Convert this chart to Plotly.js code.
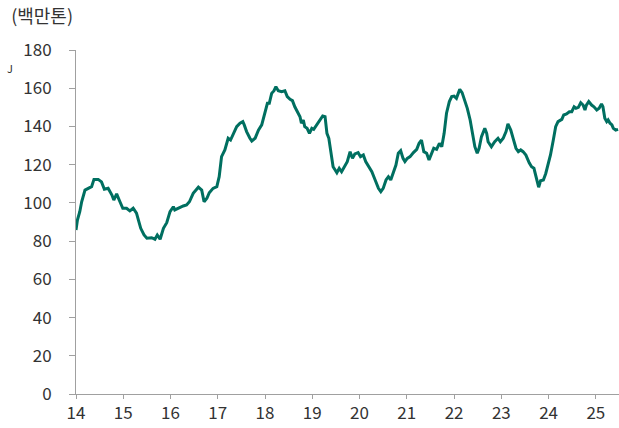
<!DOCTYPE html>
<html>
<head>
<meta charset="utf-8">
<script src="https://cdn.plot.ly/plotly-3.0.1.min.js"></script>
<style>
  html, body { margin: 0; padding: 0; background: #fff; }
  #chart { width: 619px; height: 428px; }
</style>
</head>
<body>
<div id="chart"></div>
<script>
// Decimal year (e.g. 14.5 = mid-2014)
const years = [
  14.00,14.03,14.08,14.12,14.19,14.26,14.33,14.38,14.47,14.54,14.60,14.68,14.76,14.80,14.86,14.93,14.99,
  15.07,15.14,15.21,15.28,15.33,15.37,15.44,15.50,15.60,15.67,15.72,15.78,15.85,15.92,15.99,
  16.06,16.09,16.16,16.27,16.34,16.40,16.48,16.59,16.66,16.71,16.77,16.82,16.90,16.98,
  17.03,17.08,17.15,17.22,17.27,17.33,17.40,17.47,17.53,17.56,17.61,17.68,17.72,17.79,17.86,17.93,
  18.00,18.05,18.09,18.14,18.19,18.23,18.28,18.35,18.42,18.47,18.53,18.58,18.63,18.68,18.74,18.77,18.81,18.84,18.89,18.94,18.99,
  19.03,19.09,19.16,19.22,19.27,19.31,19.35,19.39,19.44,19.52,19.57,19.62,19.69,19.74,19.80,19.85,19.90,19.97,
  20.02,20.08,20.13,20.20,20.26,20.33,20.40,20.45,20.50,20.56,20.61,20.66,20.71,20.77,20.82,20.87,20.92,20.96,
  21.01,21.07,21.14,21.21,21.26,21.31,21.36,21.42,21.47,21.52,21.57,21.63,21.69,21.74,21.79,21.84,21.90,21.95,
  22.00,22.05,22.09,22.12,22.17,22.23,22.28,22.34,22.39,22.44,22.49,22.53,22.58,22.65,22.69,22.72,22.79,22.86,22.93,22.98,
  23.04,23.10,23.14,23.20,23.25,23.31,23.36,23.41,23.46,23.52,23.59,23.64,23.69,23.75,23.79,23.83,23.89,23.94,23.99,
  24.04,24.10,24.15,24.20,24.28,24.32,24.38,24.44,24.49,24.54,24.58,24.63,24.68,24.73,24.77,24.80,24.85,24.91,24.96,
  25.02,25.07,25.12,25.15,25.19,25.23,25.26,25.30,25.34,25.37,25.42,25.47
];
// Volume, million tonnes
const volume = [
  85.8,91.0,95.4,100.6,106.7,107.6,108.5,112.3,112.3,111.0,107.1,107.6,104.1,101.5,104.7,100.6,97.2,
  97.2,95.8,97.2,94.6,90.2,86.7,83.2,81.5,81.8,81.0,83.2,81.0,86.7,89.6,95.4,
  98.0,96.3,97.2,98.4,98.9,100.6,105.0,108.2,106.7,100.6,102.4,105.3,107.6,108.5,
  113.7,124.2,127.7,133.8,132.9,136.4,139.9,141.7,142.5,140.8,137.3,133.8,132.4,133.8,138.1,140.8,
  146.9,152.1,152.1,157.3,158.7,160.8,158.7,158.2,158.7,155.6,154.2,153.5,150.3,147.7,145.1,141.7,143.4,139.9,139.0,136.4,139.0,
  138.5,140.8,143.7,145.5,145.1,136.4,133.8,126.0,118.9,115.8,118.1,116.3,119.8,121.6,126.8,123.3,125.6,126.3,
  124.2,125.1,121.6,118.9,116.3,112.0,107.6,105.9,107.6,112.0,113.7,112.0,115.4,119.8,126.0,127.3,123.3,121.6,
  123.3,124.2,126.3,128.0,131.2,132.9,126.8,126.0,122.5,126.0,128.6,128.0,131.2,129.4,136.4,146.9,153.0,155.6,
  155.9,154.7,157.3,159.4,157.7,153.0,149.5,143.4,136.4,129.4,126.0,128.6,134.7,139.0,136.4,132.0,129.4,132.0,133.8,132.0,
  133.8,137.3,141.3,138.1,133.8,128.6,126.8,127.7,126.8,125.0,121.0,118.9,118.1,112.0,108.2,111.6,112.0,115.4,119.8,
  125.1,132.9,139.9,142.5,143.7,146.0,146.5,147.7,147.7,150.3,149.5,150.0,152.4,151.2,148.6,151.2,153.0,151.2,150.3,
  148.6,149.5,151.8,150.3,144.3,142.5,143.4,141.7,140.8,139.0,138.1,138.5
];
const xTicks = [14,15,16,17,18,19,20,21,22,23,24,25];
const xTickLabels = ['14','15','16','17','18','19','20','21','22','23','24','25'];
const yTicks = [0,20,40,60,80,100,120,140,160,180];
const unitLabel = '(백만톤)';

const fontFam = '"Noto Sans CJK KR", "Noto Sans", sans-serif';

const trace = {
  x: years,
  y: volume,
  type: 'scatter',
  mode: 'lines',
  line: { color: '#006f60', width: 3, shape: 'linear' },
  hoverinfo: 'skip',
  cliponaxis: false
};

const layout = {
  width: 619,
  height: 428,
  margin: { l: 76, r: 0, t: 50, b: 34, pad: 0 },
  paper_bgcolor: '#ffffff',
  plot_bgcolor: '#ffffff',
  showlegend: false,
  font: { family: fontFam, size: 17, color: '#333333' },
  title: {
    text: unitLabel,
    xref: 'container', yref: 'container',
    x: 0.018, xanchor: 'left',
    y: 0.961, yanchor: 'middle',
    font: { family: fontFam, size: 18, color: '#333333' }
  },
  xaxis: {
    range: [14, 25.49],
    tickmode: 'array',
    tickvals: xTicks,
    ticktext: xTickLabels,
    ticks: 'outside',
    ticklen: 4,
    tickwidth: 1,
    tickcolor: '#a0a0a0',
    showline: true,
    linecolor: '#a0a0a0',
    linewidth: 1,
    showgrid: false,
    zeroline: false,
    tickfont: { family: fontFam, size: 17, color: '#333333' }
  },
  yaxis: {
    range: [0, 180],
    tickmode: 'array',
    tickvals: yTicks,
    ticks: 'outside',
    ticklen: 6,
    tickwidth: 1,
    tickcolor: '#a0a0a0',
    showline: true,
    linecolor: '#a0a0a0',
    linewidth: 1,
    showgrid: false,
    zeroline: false,
    ticklabelstandoff: 14,
    tickfont: { family: fontFam, size: 17, color: '#333333' }
  },
  annotations: [{
    text: 'J',
    xref: 'paper', yref: 'y',
    x: -0.122, y: 170.5,
    xanchor: 'center', yanchor: 'middle',
    showarrow: false,
    font: { family: fontFam, size: 11, color: '#333333' }
  }]
};

Plotly.newPlot('chart', [trace], layout, { staticPlot: true, displayModeBar: false });
</script>
</body>
</html>
